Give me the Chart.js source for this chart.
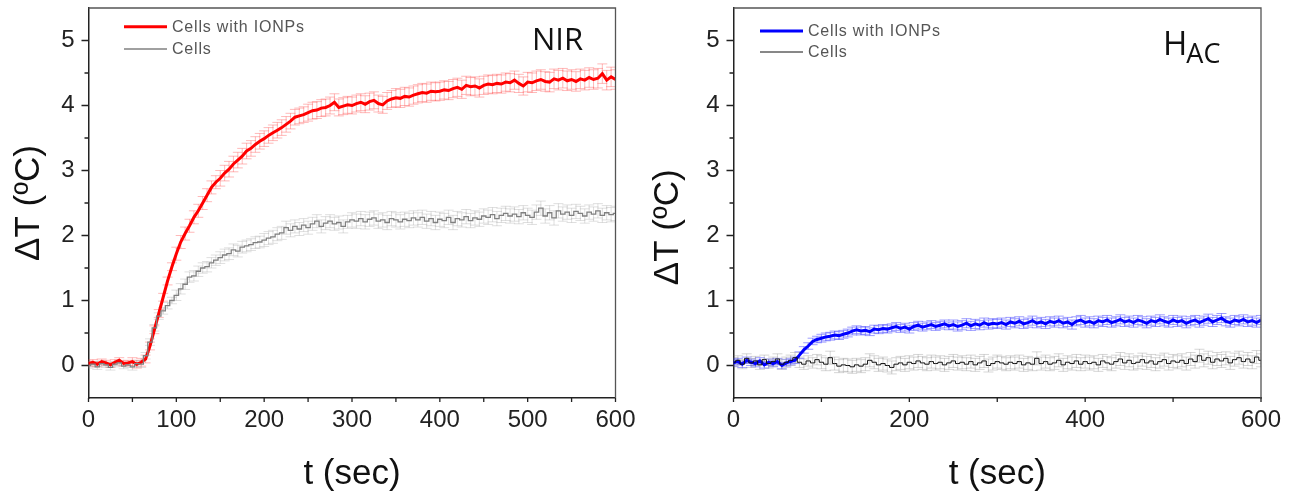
<!DOCTYPE html>
<html>
<head>
<meta charset="utf-8">
<script src="https://cdn.jsdelivr.net/npm/chart.js"></script>
<style>
    html, body { margin: 0; padding: 0; background: #fff; overflow: hidden; }
    canvas { position: absolute; top: 0; }
    #nirChart { left: 0; }
    #hacChart { left: 647px; }
</style>
</head>
<body>
<canvas id="nirChart" width="648" height="495"></canvas>
<canvas id="hacChart" width="648" height="495"></canvas>

<script>
// sampling grid of the recordings (one reading every 5 s)
const times = Array.from({length: 121}, (_, i) => i * 5);

// NIR panel
const ionpNir = [
    0.03, 0.05, 0.02, 0.06, 0.04, 0.01, 0.05, 0.08, 0.03, 0.04,
    0.06, 0.02, 0.05, 0.10, 0.30, 0.55, 0.80, 1.05, 1.30, 1.52,
    1.72, 1.90, 2.03, 2.15, 2.28, 2.38, 2.50, 2.62, 2.74, 2.82,
    2.88, 2.96, 3.02, 3.10, 3.16, 3.22, 3.30, 3.34, 3.40, 3.45,
    3.49, 3.54, 3.58, 3.62, 3.66, 3.71, 3.76, 3.82, 3.84, 3.86,
    3.89, 3.92, 3.93, 3.96, 3.97, 4.00, 4.05, 3.97, 3.99, 4.01,
    4.00, 4.03, 4.05, 4.02, 4.06, 4.08, 4.03, 4.01, 4.07, 4.10,
    4.12, 4.11, 4.14, 4.13, 4.16, 4.18, 4.20, 4.19, 4.22, 4.21,
    4.22, 4.24, 4.23, 4.26, 4.28, 4.25, 4.31, 4.29, 4.30, 4.27,
    4.31, 4.33, 4.32, 4.34, 4.33, 4.36, 4.35, 4.39, 4.34, 4.30,
    4.36, 4.35, 4.38, 4.40, 4.37, 4.36, 4.41, 4.39, 4.42, 4.38,
    4.40, 4.37, 4.41, 4.39, 4.43, 4.40, 4.42, 4.49, 4.39, 4.44,
    4.40
];
const cellsNir = [
    0.00, 0.02, -0.02, 0.03, 0.01, -0.03, 0.02, 0.04, -0.01, 0.01,
    -0.02, 0.03, 0.02, 0.15, 0.36, 0.58, 0.76, 0.84, 0.92, 1.00,
    1.08, 1.18, 1.25, 1.36, 1.38, 1.45, 1.50, 1.52, 1.58, 1.62,
    1.66, 1.70, 1.72, 1.78, 1.76, 1.82, 1.84, 1.86, 1.89, 1.90,
    1.93, 1.96, 1.98, 2.02, 2.04, 2.12, 2.08, 2.14, 2.10, 2.16,
    2.12, 2.18, 2.22, 2.14, 2.19, 2.22, 2.18, 2.20, 2.14, 2.21,
    2.24, 2.22, 2.26, 2.21, 2.25, 2.27, 2.22, 2.24, 2.20, 2.26,
    2.24, 2.21, 2.25, 2.23, 2.27, 2.24, 2.28, 2.22, 2.26, 2.20,
    2.25, 2.23, 2.28, 2.20, 2.26, 2.24, 2.29, 2.23, 2.27, 2.25,
    2.30, 2.28, 2.32, 2.26, 2.31, 2.34, 2.30, 2.33, 2.29, 2.35,
    2.31, 2.28, 2.36, 2.42, 2.30, 2.35, 2.27, 2.38, 2.33, 2.36,
    2.31, 2.37, 2.34, 2.30, 2.36, 2.33, 2.38, 2.31, 2.35, 2.32,
    2.34
];

// H_AC panel
const ionpHac = [
    0.04, 0.06, 0.02, 0.08, 0.05, 0.03, 0.07, 0.01, 0.05, 0.03,
    0.06, 0.00, 0.04, 0.06, 0.08, 0.16, 0.24, 0.30, 0.37, 0.40,
    0.42, 0.44, 0.45, 0.47, 0.46, 0.48, 0.50, 0.53, 0.55, 0.53,
    0.54, 0.52, 0.56, 0.55, 0.57, 0.56, 0.58, 0.60, 0.57, 0.59,
    0.56, 0.60, 0.62, 0.59, 0.61, 0.63, 0.60, 0.62, 0.64, 0.61,
    0.63, 0.60, 0.62, 0.65, 0.61, 0.64, 0.62, 0.66, 0.63, 0.65,
    0.64, 0.66, 0.63, 0.67, 0.65, 0.68, 0.64, 0.66, 0.69, 0.65,
    0.67, 0.64, 0.68, 0.66, 0.69, 0.65, 0.67, 0.63, 0.68, 0.70,
    0.66, 0.68, 0.65, 0.69, 0.67, 0.70, 0.66, 0.68, 0.71, 0.67,
    0.69, 0.66, 0.70, 0.68, 0.65, 0.69, 0.67, 0.71, 0.68, 0.66,
    0.70, 0.67, 0.69, 0.65, 0.68, 0.70, 0.66, 0.69, 0.72, 0.67,
    0.70, 0.73, 0.68, 0.66, 0.70, 0.68, 0.71, 0.67, 0.69, 0.66,
    0.70
];
const cellsHac = [
    0.05, 0.08, 0.02, 0.11, 0.04, 0.07, 0.01, 0.09, 0.03, 0.06,
    0.10, 0.02, 0.05, 0.08, 0.12, 0.05, 0.02, 0.07, 0.04, 0.09,
    0.05, 0.02, 0.12, 0.03, -0.01, 0.01, 0.00, -0.02, 0.01, -0.01,
    0.02, 0.08, 0.05, 0.01, 0.03, 0.00, -0.03, 0.02, 0.04, 0.01,
    0.05, 0.03, 0.07, 0.04, 0.02, 0.06, 0.03, 0.05, 0.01, 0.04,
    0.07, 0.03, 0.05, 0.02, 0.06, 0.01, 0.04, 0.07, 0.00, 0.03,
    0.06, 0.04, 0.02, 0.05, 0.03, 0.06, 0.01, 0.04, 0.02, 0.11,
    0.03, 0.06, 0.02, 0.04, 0.08, 0.01, 0.05, 0.03, 0.07, 0.02,
    0.06, 0.03, 0.05, 0.01, 0.07, 0.04, 0.02, 0.06, 0.10, 0.04,
    0.08, 0.03, 0.05, 0.09, 0.04, 0.07, 0.02, 0.06, 0.09, 0.03,
    0.07, 0.05, 0.08, 0.03, 0.10, 0.06, 0.15, 0.08, 0.12, 0.05,
    0.10, 0.07, 0.11, 0.04, 0.09, 0.12, 0.06, 0.10, 0.05, 0.13,
    0.08
];

// error half-widths, one per 50 s window
const errIonpNir  = [0.04, 0.06, 0.10, 0.12, 0.12, 0.13, 0.13, 0.14, 0.14, 0.14, 0.15, 0.15, 0.15];
const errCellsNir = [0.04, 0.05, 0.08, 0.09, 0.10, 0.10, 0.11, 0.11, 0.11, 0.11, 0.11, 0.11, 0.11];
const errIonpHac  = [0.05, 0.05, 0.06, 0.06, 0.06, 0.07, 0.07, 0.07, 0.07, 0.07, 0.07, 0.07, 0.07];
const errCellsHac = [0.07, 0.08, 0.10, 0.10, 0.10, 0.10, 0.10, 0.10, 0.10, 0.10, 0.10, 0.10, 0.10];

// axis ticks
const yTicks = [0, 1, 2, 3, 4, 5];
const yMinorTicks = [0.5, 1.5, 2.5, 3.5, 4.5];
const xTicksNir = [0, 100, 200, 300, 400, 500, 600];
const xMinorNir = [50, 150, 250, 350, 450, 550];
const xTicksHac = [0, 200, 400, 600];
const xMinorHac = [100, 300, 500];

const legendLabels = ['Cells with IONPs', 'Cells'];

const sansFont = "'Liberation Sans', Arial, sans-serif";

function points(vals) {
    return vals.map((v, i) => ({x: times[i], y: v}));
}

// faint error bars under each curve
const errorBars = {
    id: 'errorBars',
    beforeDatasetsDraw(chart) {
        const {ctx, chartArea, scales: {x, y}} = chart;
        ctx.save();
        ctx.beginPath();
        ctx.rect(chartArea.left, chartArea.top, chartArea.width, chartArea.height);
        ctx.clip();
        chart.data.datasets.forEach(ds => {
            if (!ds.errors) return;
            ctx.strokeStyle = ds.errorColor;
            ctx.lineWidth = 1;
            ds.data.forEach(p => {
                const e = ds.errors[Math.min(Math.floor(p.x / 50), ds.errors.length - 1)];
                const px = x.getPixelForValue(p.x);
                const y1 = y.getPixelForValue(p.y - e);
                const y2 = y.getPixelForValue(p.y + e);
                ctx.beginPath();
                ctx.moveTo(px, y1); ctx.lineTo(px, y2);
                ctx.moveTo(px - 5, y1); ctx.lineTo(px + 5, y1);
                ctx.moveTo(px - 5, y2); ctx.lineTo(px + 5, y2);
                ctx.stroke();
            });
        });
        ctx.restore();
    }
};

// box frame, outward ticks, legend and panel tag
const decorations = {
    id: 'decorations',
    afterDraw(chart, args, opts) {
        const {ctx, chartArea: a, scales: {x, y}} = chart;
        ctx.save();
        // top and right edges
        ctx.strokeStyle = '#555';
        ctx.lineWidth = 1.3;
        ctx.beginPath();
        ctx.moveTo(a.left, a.top); ctx.lineTo(a.right, a.top); ctx.lineTo(a.right, a.bottom);
        ctx.stroke();

        // ticks
        ctx.strokeStyle = '#222';
        ctx.lineWidth = 1.3;
        ctx.beginPath();
        yTicks.forEach(v => { const py = y.getPixelForValue(v); ctx.moveTo(a.left, py); ctx.lineTo(a.left - 7, py); });
        yMinorTicks.forEach(v => { const py = y.getPixelForValue(v); ctx.moveTo(a.left, py); ctx.lineTo(a.left - 4, py); });
        opts.xMajor.concat(opts.xMinor).forEach(v => { const px = x.getPixelForValue(v); ctx.moveTo(px, a.bottom); ctx.lineTo(px, a.bottom + 4); });
        ctx.stroke();

        // legend inside the plot
        const lg = opts.legend;
        ctx.font = '16px ' + sansFont;
        ctx.letterSpacing = '0.8px';
        ctx.textBaseline = 'middle';
        ctx.fillStyle = '#555';
        chart.data.datasets.forEach((ds, i) => {
            const ly = a.top + lg.y + i * lg.gap;
            ctx.strokeStyle = ds.borderColor;
            ctx.lineWidth = ds.borderWidth;
            ctx.beginPath();
            ctx.moveTo(a.left + lg.x, ly);
            ctx.lineTo(a.left + lg.x + 43, ly);
            ctx.stroke();
            ctx.fillText(ds.label, a.left + lg.x + 48, ly + 1);
        });
        ctx.letterSpacing = '0px';

        // panel tag
        const tag = opts.tag;
        ctx.fillStyle = '#111';
        ctx.textBaseline = 'alphabetic';
        ctx.font = tag.size + "px 'Open Sans', sans-serif";
        ctx.fillText(tag.text, a.right - tag.dx, tag.baseline);
        if (tag.sub) {
            const w = ctx.measureText(tag.text).width;
            ctx.font = tag.subSize + "px 'Open Sans', sans-serif";
            ctx.fillText(tag.sub, a.right - tag.dx + w - 1, tag.subBaseline);
        }
        ctx.restore();
    }
};

function makeChart(id, datasets, cfg) {
    return new Chart(document.getElementById(id), {
        type: 'line',
        data: {datasets: datasets},
        options: {
            responsive: false,
            animation: false,
            layout: {padding: {left: 0, top: 8, right: cfg.padRight, bottom: 0}},
            elements: {point: {radius: 0}, line: {tension: 0}},
            plugins: {
                legend: {display: false},
                tooltip: {enabled: false},
                decorations: {xMajor: cfg.xMajor, xMinor: cfg.xMinor, legend: cfg.legend, tag: cfg.tag}
            },
            scales: {
                x: {
                    type: 'linear', min: 0, max: 600,
                    afterBuildTicks: s => { s.ticks = cfg.xMajor.map(v => ({value: v})); },
                    afterFit: s => { s.height = 97; s.paddingLeft = 0; s.paddingRight = 0; },
                    grid: {display: false, drawTicks: false},
                    border: {display: true, color: '#222', width: 1.5},
                    ticks: {padding: 8, maxRotation: 0, font: {family: sansFont, size: 24}, color: '#222'},
                    title: {display: true, text: 't (sec)', color: '#111', font: {family: sansFont, size: 35}, padding: {top: 0, bottom: 0}}
                },
                y: {
                    type: 'linear', min: -0.5, max: 5.5,
                    afterBuildTicks: s => { s.ticks = yTicks.map(v => ({value: v})); },
                    afterFit: s => { s.width = cfg.yWidth; s.paddingTop = 0; s.paddingBottom = 0; },
                    grid: {display: false, drawTicks: false},
                    border: {display: true, color: '#222', width: 1.5},
                    ticks: {padding: 14, font: {family: sansFont, size: 24}, color: '#222'},
                    title: {display: true, text: cfg.yTitle, color: '#111', font: {family: sansFont, size: 35}, padding: {top: cfg.yTitlePad, bottom: 0}}
                }
            }
        },
        plugins: [errorBars, decorations]
    });
}

makeChart('nirChart', [
    {label: legendLabels[0], data: points(ionpNir), borderColor: '#ff0000', borderWidth: 3, order: 1,
     errors: errIonpNir, errorColor: 'rgba(255, 70, 70, 0.38)'},
    {label: legendLabels[1], data: points(cellsNir), borderColor: '#808080', borderWidth: 1.3, order: 0,
     stepped: 'middle', errors: errCellsNir, errorColor: 'rgba(150, 150, 150, 0.3)'}
], {
    padRight: 32.5, yWidth: 88.5, yTitle: 'ΔT (ºC)', yTitlePad: 8,
    xMajor: xTicksNir, xMinor: xMinorNir,
    legend: {x: 35.5, y: 18.7, gap: 22.3},
    tag: {text: 'NIR', size: 31, dx: 83.5, baseline: 50}
});

makeChart('hacChart', [
    {label: legendLabels[0], data: points(ionpHac), borderColor: '#0000ff', borderWidth: 3, order: 1,
     errors: errIonpHac, errorColor: 'rgba(40, 40, 255, 0.45)'},
    {label: legendLabels[1], data: points(cellsHac), borderColor: '#111', borderWidth: 1, order: 0,
     stepped: 'middle', errors: errCellsHac, errorColor: 'rgba(120, 120, 120, 0.3)'}
], {
    padRight: 34, yWidth: 86.5, yTitle: 'ΔT (ºC)     ', yTitlePad: 0,
    xMajor: xTicksHac, xMinor: xMinorHac,
    legend: {x: 26.5, y: 23, gap: 21},
    tag: {text: 'H', sub: 'AC', size: 33, subSize: 27, dx: 98, baseline: 55, subBaseline: 63}
});
</script>
</body>
</html>
